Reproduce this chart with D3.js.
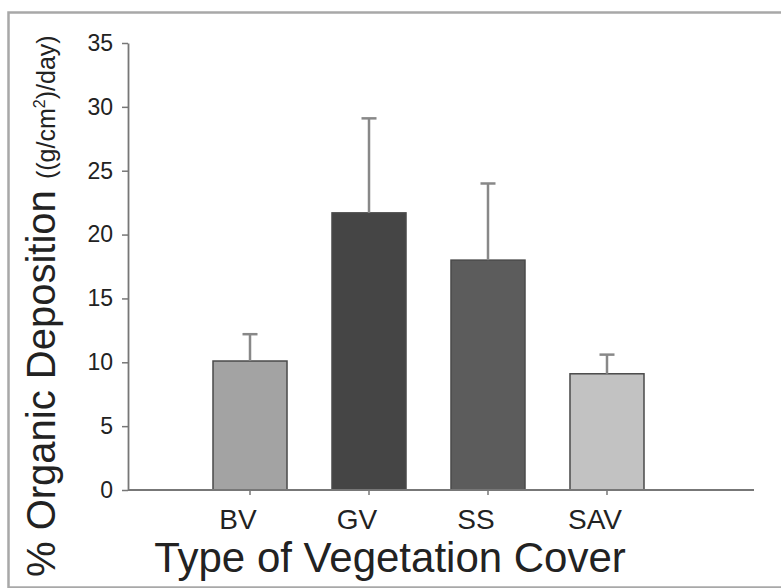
<!DOCTYPE html>
<html>
<head>
<meta charset="utf-8">
<script src="https://cdn.jsdelivr.net/npm/d3@7"></script>
<style>
  body { margin: 0; background: #fff; }
  text { font-family: "Liberation Sans", Arial, sans-serif; fill: #222; }
</style>
</head>
<body>
<div id="chart"></div>
<script>
// Chart data
const categories = ["BV", "GV", "SS", "SAV"];
const means = [10.1, 21.7, 18.0, 9.1];
const errors = [2.1, 7.4, 6.0, 1.5];
const barColors = ["#a3a3a3", "#454545", "#5c5c5c", "#c2c2c2"];
const yTicks = [0, 5, 10, 15, 20, 25, 30, 35];

const W = 781, H = 588;
const axisLeftX = 128, axisRightX = 754;

const svg = d3.select("#chart").append("svg")
  .attr("width", W)
  .attr("height", H);

// Outer frame
svg.append("rect")
  .attr("x", 8.5).attr("y", 12.5)
  .attr("width", W + 20).attr("height", 575)
  .attr("fill", "none")
  .attr("stroke", "#a8a8a8")
  .attr("stroke-width", 2.5);

const y = d3.scaleLinear().domain([0, 35]).range([490, 43]);
const x = d3.scaleBand()
  .domain(categories)
  .range([213, 644])
  .paddingInner(0.378)
  .paddingOuter(0);

// Y axis
const yAxis = svg.append("g")
  .attr("transform", `translate(${axisLeftX},0)`)
  .call(d3.axisLeft(y).tickValues(yTicks).tickSize(6).tickSizeOuter(0).tickPadding(9));
yAxis.select(".domain").attr("stroke", "#777").attr("stroke-width", 1.8);
yAxis.selectAll(".tick line").attr("stroke", "#777").attr("stroke-width", 1.5);
yAxis.selectAll(".tick text")
  .style("font-size", "23px")
  .style("font-family", "'Liberation Sans', Arial, sans-serif")
  .attr("fill", "#222");

// Bars
svg.selectAll(".bar")
  .data(categories)
  .enter()
  .append("rect")
  .attr("class", "bar")
  .attr("x", d => x(d))
  .attr("width", x.bandwidth())
  .attr("y", (d, i) => y(means[i]))
  .attr("height", (d, i) => y(0) - y(means[i]))
  .attr("fill", (d, i) => barColors[i])
  .attr("stroke", "#4a4a4a")
  .attr("stroke-width", 1.5);

// Error bars (upper only)
const errG = svg.append("g");
categories.forEach((c, i) => {
  const cx = x(c) + x.bandwidth() / 2;
  errG.append("line")
    .attr("x1", cx).attr("x2", cx)
    .attr("y1", y(means[i])).attr("y2", y(means[i] + errors[i]))
    .attr("stroke", "#888").attr("stroke-width", 2.5);
  errG.append("line")
    .attr("x1", cx - 7.5).attr("x2", cx + 7.5)
    .attr("y1", y(means[i] + errors[i])).attr("y2", y(means[i] + errors[i]))
    .attr("stroke", "#888").attr("stroke-width", 2.5);
});

// X axis
const xAxis = svg.append("g")
  .attr("transform", `translate(0,${y(0)})`)
  .call(d3.axisBottom(x).tickSize(5).tickSizeOuter(0).tickPadding(14));
xAxis.select(".domain").remove();
xAxis.selectAll(".tick line").attr("stroke", "#777").attr("stroke-width", 1.5);
xAxis.selectAll(".tick text")
  .attr("dx", -12)
  .style("font-size", "28px")
  .style("font-family", "'Liberation Sans', Arial, sans-serif")
  .attr("fill", "#222");
svg.append("line")
  .attr("x1", axisLeftX).attr("x2", axisRightX)
  .attr("y1", y(0)).attr("y2", y(0))
  .attr("stroke", "#777").attr("stroke-width", 1.8);

// X title
svg.append("text")
  .attr("x", 390)
  .attr("y", 572)
  .attr("text-anchor", "middle")
  .style("font-size", "42px")
  .text("Type of Vegetation Cover");

// Y title
const yTitle = svg.append("text")
  .attr("transform", "translate(55,577) rotate(-90)")
  .attr("text-anchor", "start");
yTitle.append("tspan").style("font-size", "40px").text("% Organic Deposition ");
yTitle.append("tspan").style("font-size", "25px").text("((g/cm");
yTitle.append("tspan").style("font-size", "16px").attr("dy", -10).text("2");
yTitle.append("tspan").style("font-size", "25px").attr("dy", 10).text(")/day)");
</script>
</body>
</html>
